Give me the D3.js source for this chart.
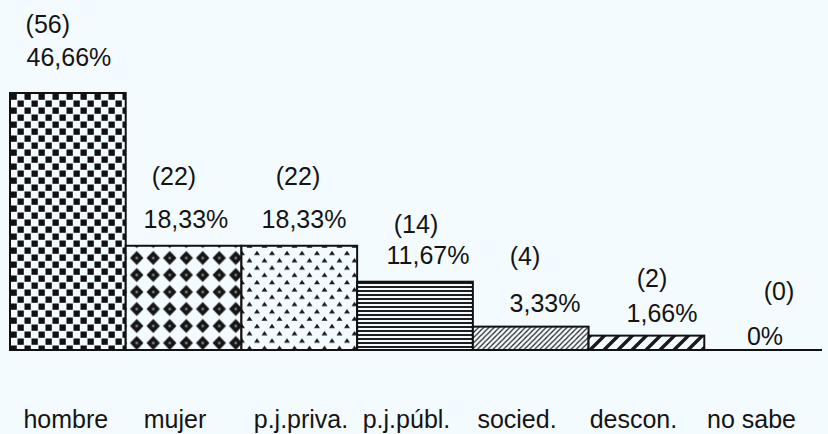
<!DOCTYPE html>
<html><head><meta charset="utf-8">
<script src="https://cdn.jsdelivr.net/npm/d3@7"></script>
<style>
html,body{margin:0;padding:0;background:#f4fbfe;}
svg{display:block;}
text{font-family:"Liberation Sans",Arial,Helvetica,sans-serif;fill:#141414;}
</style>
</head><body><div id="chart"></div>
<script>
// ---- data ----
const categories = ["hombre","mujer","p.j.priva.","p.j.públ.","socied.","descon.","no sabe"];
const counts = [56,22,22,14,4,2,0];
const percentLabels = ["46,66%","18,33%","18,33%","11,67%","3,33%","1,66%","0%"];
const fills = ["checker","diamond","spade","hlines","hatch","dash",null];

// ---- layout nudges (hand placement of the original labels) ----
const pctDx = [1.1,2.4,4.7,13,14.3,15.6,2.9];
const pctDy = [-27,-18,-18,-18,-15,-14,0];
const cntDx = [-20,-9.6,-1.3,1,-5.7,5.6,16.9];
const cntDy = [-33,-43,-43,-31,-47,-35,-45];
const catDx = [-2,-8.6,1.7,-8.5,-13.7,-13,-10.6];

const W = 828, H = 434;
const svg = d3.select("#chart").append("svg").attr("width",W).attr("height",H);
svg.append("rect").attr("width",W).attr("height",H).attr("fill","#f4fbfe");

const x = d3.scaleBand().domain(categories).range([10,820]).padding(0);
const y = d3.scaleLinear().domain([-1.2,56]).range([350,93]);
const base = y(-1.2);

// ---- patterns ----
const defs = svg.append("defs");
const bg = "#f4fbfe";
// checkerboard
let p = defs.append("pattern").attr("id","checker").attr("patternUnits","userSpaceOnUse")
  .attr("x",10).attr("y",93).attr("width",14).attr("height",14);
p.append("rect").attr("width",14).attr("height",14).attr("fill",bg);
p.append("rect").attr("x",0.5).attr("y",0.5).attr("width",6.3).attr("height",6.3).attr("fill","#111");
p.append("rect").attr("x",7.5).attr("y",7.5).attr("width",6.3).attr("height",6.3).attr("fill","#111");
// diamonds
p = defs.append("pattern").attr("id","diamond").attr("patternUnits","userSpaceOnUse")
  .attr("x",128.5).attr("y",249.5).attr("width",16.5).attr("height",17);
p.append("rect").attr("width",16.5).attr("height",17).attr("fill",bg);
p.append("path").attr("d","M8.25,1.5 L15,8.5 L8.25,15.5 L1.5,8.5 Z").attr("fill","#161616");
p.append("circle").attr("cx",8.25).attr("cy",8.5).attr("r",1.3).attr("fill","#8a9499");
// small spade/triangle dots, staggered
p = defs.append("pattern").attr("id","spade").attr("patternUnits","userSpaceOnUse")
  .attr("x",242).attr("y",249).attr("width",15).attr("height",14.6);
p.append("rect").attr("width",15).attr("height",14.6).attr("fill",bg);
p.append("path").attr("d","M15,1.6 L18,6 L12,6 Z M7.5,8.9 L10.5,13.3 L4.5,13.3 Z M0,1.6 L3,6 L-3,6 Z")
  .attr("fill","#1a1a1a");
// horizontal lines
p = defs.append("pattern").attr("id","hlines").attr("patternUnits","userSpaceOnUse")
  .attr("x",0).attr("y",281).attr("width",10).attr("height",4);
p.append("rect").attr("width",10).attr("height",4).attr("fill",bg);
p.append("rect").attr("y",1).attr("width",10).attr("height",2).attr("fill","#1e1e1e");
// thin diagonal hatch
p = defs.append("pattern").attr("id","hatch").attr("patternUnits","userSpaceOnUse")
  .attr("width",5.2).attr("height",5.2);
p.append("rect").attr("width",5.2).attr("height",5.2).attr("fill",bg);
p.append("path").attr("d","M-1.3,1.3 L1.3,-1.3 M0,5.2 L5.2,0 M3.9,6.5 L6.5,3.9")
  .attr("stroke","#1e1e1e").attr("stroke-width",1.2);
// thick diagonal dashes
p = defs.append("pattern").attr("id","dash").attr("patternUnits","userSpaceOnUse")
  .attr("x",590).attr("width",14).attr("height",14);
p.append("rect").attr("width",14).attr("height",14).attr("fill",bg);
p.append("path").attr("d","M-3.5,3.5 L3.5,-3.5 M0,14 L14,0 M10.5,17.5 L17.5,10.5")
  .attr("stroke","#1a1a1a").attr("stroke-width",3.4);

// ---- bars ----
const idx = d3.range(categories.length);
svg.append("g").selectAll("rect").data(idx.filter(i => counts[i] > 0)).join("rect")
  .attr("x", i => x(categories[i]))
  .attr("y", i => y(counts[i]))
  .attr("width", x.bandwidth())
  .attr("height", i => base - y(counts[i]))
  .attr("fill", i => `url(#${fills[i]})`)
  .attr("stroke","#111").attr("stroke-width",2);

// baseline
svg.append("line").attr("x1",10).attr("x2",822).attr("y1",base).attr("y2",base)
  .attr("stroke","#111").attr("stroke-width",1.8);

// ---- labels ----
const cx = i => x(categories[i]) + x.bandwidth()/2;
const lab = svg.append("g").attr("font-size",25).attr("text-anchor","middle");
lab.selectAll("text.pct").data(idx).join("text").attr("class","pct")
  .attr("x", i => cx(i) + pctDx[i])
  .attr("y", i => y(counts[i]) + pctDy[i])
  .text(i => percentLabels[i]);
lab.selectAll("text.cnt").data(idx).join("text").attr("class","cnt")
  .attr("x", i => cx(i) + cntDx[i])
  .attr("y", i => y(counts[i]) + pctDy[i] + cntDy[i])
  .text(i => `(${counts[i]})`);

// category axis labels
svg.append("g").attr("font-size",25).attr("text-anchor","middle")
  .selectAll("text").data(idx).join("text")
  .attr("x", i => cx(i) + catDx[i])
  .attr("y", 428)
  .attr("fill", i => i === 6 ? "#333" : "#141414")
  .text(i => categories[i]);
</script>
</body></html>
